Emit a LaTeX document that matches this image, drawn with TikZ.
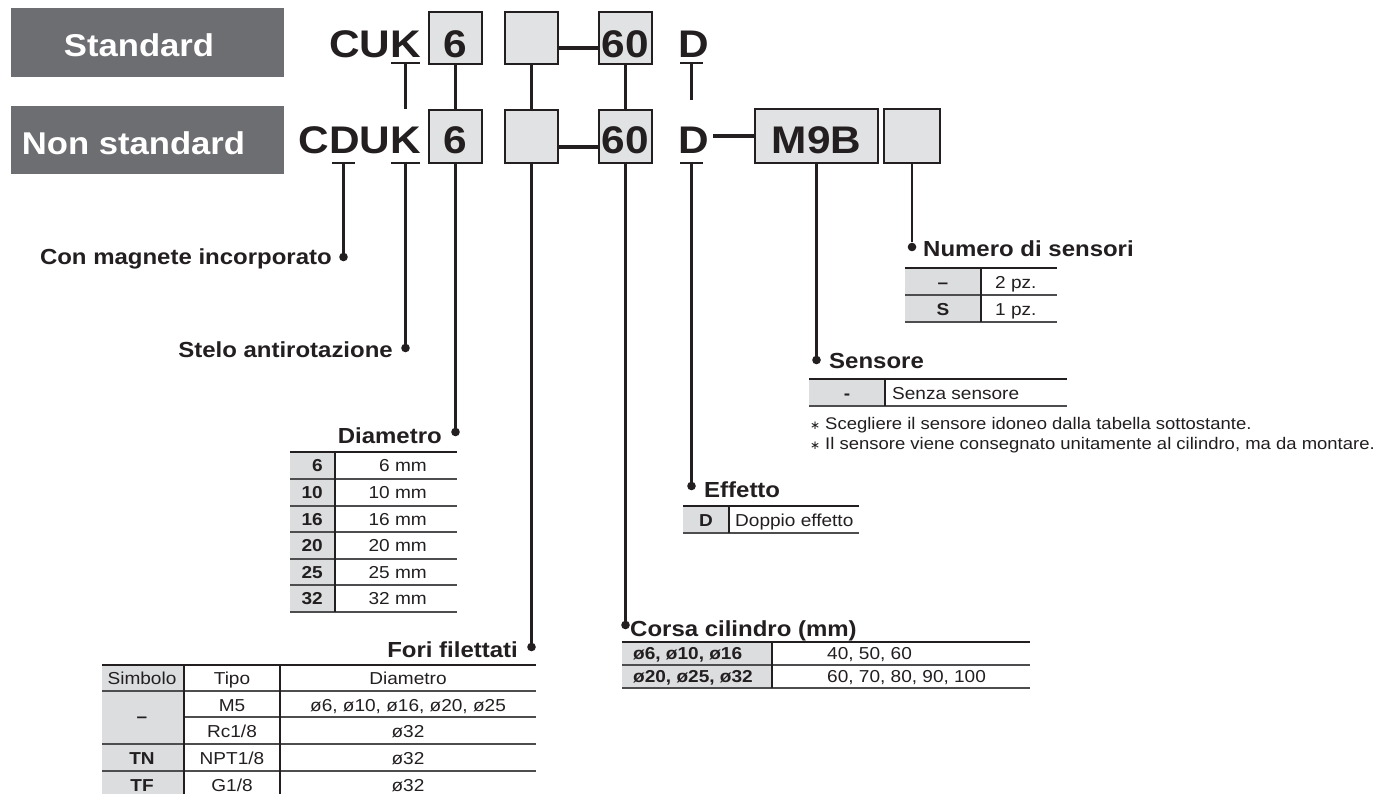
\documentclass[tikz,border=0pt]{standalone}
\usepackage{fontspec}
\setmainfont[FakeStretch=1.1]{Liberation Sans}
\newfontfamily\djv{DejaVu Sans}
\definecolor{ink}{HTML}{231F20}
\definecolor{hdr}{HTML}{6D6E71}
\definecolor{boxgray}{HTML}{E1E2E3}
\definecolor{cellgray}{HTML}{DCDDDF}
\definecolor{rulegray}{HTML}{4D4D4F}
\tikzset{
  code/.style={font=\fontsize{38.5}{40}\selectfont\bfseries, inner sep=0pt, text=ink},
  hdrtxt/.style={font=\fontsize{31.5}{34}\selectfont\bfseries, inner sep=0pt, text=white},
  lbl/.style={font=\fontsize{21.8}{24}\selectfont\bfseries, inner sep=0pt, text=ink},
  cell/.style={font=\fontsize{17.3}{20}\selectfont, inner sep=0pt, text=ink},
  bcell/.style={font=\fontsize{17.3}{20}\selectfont\bfseries, inner sep=0pt, text=ink},
  note/.style={font=\fontsize{16.8}{20}\selectfont, inner sep=0pt, text=ink},
  cbox/.style={draw=ink, line width=2.4pt, fill=boxgray, inner sep=0pt},
  hdrbox/.style={fill=hdr, inner sep=0pt, minimum width=273pt},
  dotn/.style={circle, fill=ink, inner sep=0pt, minimum size=8.6pt},
  lead/.style={draw=ink, line width=2.1pt},
  link/.style={draw=ink, line width=3.2pt},
  toprule/.style={draw=ink, line width=2.3pt},
  rowrule/.style={draw=rulegray, line width=1.3pt},
  colrule/.style={draw=ink, line width=1.3pt}
}
\begin{document}
\begin{tikzpicture}[x=1pt,y=-1pt]
\useasboundingbox (0,0) rectangle (1380,794);
\fill[white] (0,0) rectangle (1380,794);

% header boxes
\node[hdrbox, minimum height=69pt] (std) at (147.5,42.5) {};
\node[hdrbox, minimum height=68pt] (nstd) at (147.5,140) {};
\node[hdrtxt, anchor=base] at (139,57) {Standard};
\node[hdrtxt, anchor=base] at (133.5,155) {Non standard};

% row 1
\node[cbox, minimum width=53pt, minimum height=52pt] (a6) at (455.5,38) {};
\node[cbox, minimum width=53pt, minimum height=52pt] (ae) at (531.5,38) {};
\node[cbox, minimum width=53pt, minimum height=52pt] (a60) at (625.5,38) {};
\node[code, anchor=base east] (cuk) at (421,58) {CUK};
\node[code, anchor=base] at (455.5,58) {6};
\node[code, anchor=base] at (625.5,58) {60};
\node[code, anchor=base west] (da) at (678,58) {D};

% row 2
\node[cbox, minimum width=53pt, minimum height=53pt] (b6) at (455.5,136.5) {};
\node[cbox, minimum width=53pt, minimum height=53pt] (be) at (531.5,136.5) {};
\node[cbox, minimum width=53pt, minimum height=53pt] (b60) at (625.5,136.5) {};
\node[cbox, minimum width=123pt, minimum height=54pt] (bm) at (816.5,136) {};
\node[cbox, minimum width=56pt, minimum height=54pt] (bn) at (912,136) {};
\node[code, anchor=base east] (cduk) at (421,154) {CDUK};
\node[code, anchor=base] at (455.5,154) {6};
\node[code, anchor=base] at (625.5,154) {60};
\node[code, anchor=base west] (db) at (678,154) {D};
\node[code, anchor=base] at (816.5,154) {M9B};

% box connectors
\coordinate (r1) at (0,48);
\coordinate (r2) at (0,147);
\draw[link] (ae.east |- r1) -- (a60.west |- r1);
\draw[link] (be.east |- r2) -- (b60.west |- r2);
\coordinate (dm) at (713,136);
\draw[link] (dm) -- (bm.west);

% between rows
\draw[lead] (a6.south) -- (b6.north);
\draw[lead] (ae.south) -- (be.north);
\draw[lead] (a60.south) -- (b60.north);

% underlines row 1
\draw[lead] (391,63) -- (420,63);
\coordinate (ka) at (405.5,63);
\coordinate (kb) at (405.5,109);
\draw[lead] (ka) -- (kb);
\draw[lead] (680,63) -- (703,63);
\coordinate (dta) at (691.5,63);
\coordinate (dtb) at (691.5,100);
\draw[lead] (dta) -- (dtb);

% underlines row 2
\draw[lead] (332,163) -- (355,163);
\draw[lead] (391,163) -- (420,163);
\draw[lead] (680,163) -- (703,163);
\coordinate (ud) at (343.5,163);
\coordinate (uk) at (405.5,163);
\coordinate (ue) at (691.5,163);

% dots
\node[dotn] (dmag) at (343.5,257) {};
\node[dotn] (dste) at (405.5,348) {};
\node[dotn] (ddia) at (455.5,432) {};
\node[dotn] (dfor) at (531.5,647) {};
\node[dotn] (dcor) at (625.5,625) {};
\node[dotn] (deff) at (691.5,486) {};
\node[dotn] (dsen) at (816.5,360) {};
\node[dotn] (dnum) at (912,247) {};

\draw[lead] (ud) -- (dmag);
\draw[lead] (uk) -- (dste);
\draw[lead] (b6.south) -- (ddia);
\draw[lead] (be.south) -- (dfor);
\draw[lead] (b60.south) -- (dcor);
\draw[lead] (ue) -- (deff);
\draw[lead] (bm.south) -- (dsen);
\draw[lead] (bn.south) -- (dnum);

% labels
\node[lbl, anchor=base east] at (332,265) {Con magnete incorporato};
\node[lbl, anchor=base east] at (393,357) {Stelo antirotazione};
\node[lbl, anchor=base east] at (442,443) {Diametro};
\node[lbl, anchor=base east] at (518,657) {Fori filettati};
\node[lbl, anchor=base west] at (630,636) {Corsa cilindro (mm)};
\node[lbl, anchor=base west] at (704,497) {Effetto};
\node[lbl, anchor=base west] at (829,368) {Sensore};
\node[lbl, anchor=base west] at (923,257) {Numero di sensori};

% Numero di sensori table
\fill[cellgray] (905,268) rectangle (981,322);
\draw[rowrule] (905,295) -- (1057,295);
\draw[rowrule] (905,322) -- (1057,322);
\draw[colrule] (981,268) -- (981,322);
\draw[toprule] (905,268) -- (1057,268);
\node[bcell, anchor=base] at (943,288.5) {–};
\node[cell, anchor=base west] at (995,288.5) {2 pz.};
\node[bcell, anchor=base] at (943,315.5) {S};
\node[cell, anchor=base west] at (995,315.5) {1 pz.};

% Sensore table
\fill[cellgray] (809,379) rectangle (885,406);
\draw[rowrule] (809,406) -- (1067,406);
\draw[colrule] (885,379) -- (885,406);
\draw[toprule] (809,379) -- (1067,379);
\node[bcell, anchor=base] at (847,399) {-};
\node[cell, anchor=base west] at (892,399) {Senza sensore};
\node[note, anchor=base west] at (810,429) {{\djv\fontsize{12}{14}\selectfont ∗}};
\node[note, anchor=base west] at (825,429) {Scegliere il sensore idoneo dalla tabella sottostante.};
\node[note, anchor=base west] at (810,449) {{\djv\fontsize{12}{14}\selectfont ∗}};
\node[note, anchor=base west] at (825,449) {Il sensore viene consegnato unitamente al cilindro, ma da montare.};

% Effetto table
\fill[cellgray] (683,506) rectangle (729,533);
\draw[rowrule] (683,533) -- (859,533);
\draw[colrule] (729,506) -- (729,533);
\draw[toprule] (683,506) -- (859,506);
\node[bcell, anchor=base] at (706,526) {D};
\node[cell, anchor=base west] at (735,526) {Doppio effetto};

% Diametro table
\fill[cellgray] (290,452) rectangle (335,612);
\foreach \yy in {479,506,532,559,585,612} \draw[rowrule] (290,\yy) -- (457,\yy);
\draw[colrule] (335,452) -- (335,612);
\draw[toprule] (290,452) -- (457,452);
\foreach \yy/\n in {471.5/6,498.5/10,525/16,551.5/20,578/25,604.5/32} {
  \node[bcell, anchor=base east] at (323,\yy) {\n};
  \node[cell, anchor=base east] at (427,\yy) {\n\ mm};
}

% Corsa cilindro table
\fill[cellgray] (622,642) rectangle (772,688);
\draw[rowrule] (622,665) -- (1030,665);
\draw[rowrule] (622,688) -- (1030,688);
\draw[colrule] (772,642) -- (772,688);
\draw[toprule] (622,642) -- (1030,642);
\node[bcell, anchor=base west] at (633,659.5) {ø6, ø10, ø16};
\node[cell, anchor=base west] at (827,659.5) {40, 50, 60};
\node[bcell, anchor=base west] at (633,682.5) {ø20, ø25, ø32};
\node[cell, anchor=base west] at (827,682.5) {60, 70, 80, 90, 100};

% Fori filettati table
\fill[cellgray] (102,665) rectangle (184,794);
\draw[rowrule] (102,691) -- (536,691);
\draw[rowrule] (184,717) -- (536,717);
\draw[rowrule] (102,744) -- (536,744);
\draw[rowrule] (102,771) -- (536,771);
\draw[colrule] (184,665) -- (184,794);
\draw[colrule] (280,665) -- (280,794);
\draw[toprule] (102,665) -- (536,665);
\node[cell, anchor=base] at (142,684.5) {Simbolo};
\node[cell, anchor=base] at (232,684.5) {Tipo};
\node[cell, anchor=base] at (408,684.5) {Diametro};
\node[bcell, anchor=base] at (142,722.5) {–};
\node[cell, anchor=base] at (232,711) {M5};
\node[cell, anchor=base] at (408,711) {ø6, ø10, ø16, ø20, ø25};
\node[cell, anchor=base] at (232,737.5) {Rc1/8};
\node[cell, anchor=base] at (408,737.5) {ø32};
\node[bcell, anchor=base] at (142,764.5) {TN};
\node[cell, anchor=base] at (232,764.5) {NPT1/8};
\node[cell, anchor=base] at (408,764.5) {ø32};
\node[bcell, anchor=base] at (142,791) {TF};
\node[cell, anchor=base] at (232,791) {G1/8};
\node[cell, anchor=base] at (408,791) {ø32};
\end{tikzpicture}
\end{document}
